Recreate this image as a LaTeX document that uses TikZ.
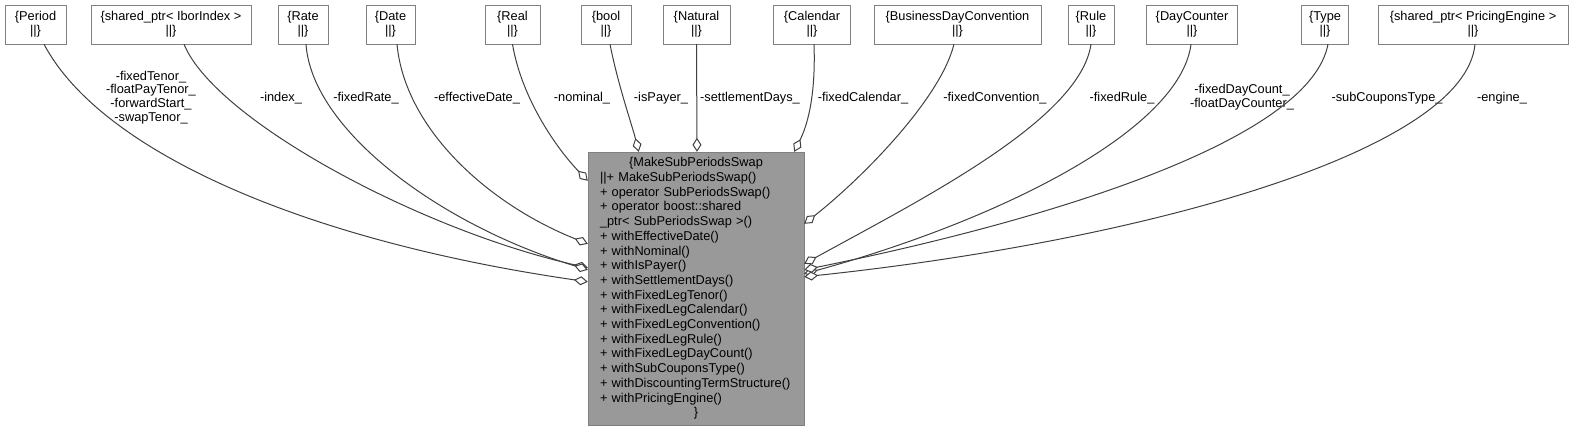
\documentclass[tikz,border=0pt]{standalone}
\usepackage{fontspec}
\setmainfont{Liberation Sans}
\usepackage{xcolor}
\usepackage{tikz}
\usetikzlibrary{arrows.meta}

\definecolor{borda}{HTML}{808080}
\definecolor{cinza}{HTML}{999999}
\definecolor{linha}{HTML}{404040}

\begin{document}
\begin{tikzpicture}[
    x=1pt, y=-1pt,
    classe/.style={
        rectangle,
        draw=borda,
        fill=white,
        align=center,
        minimum height=39pt,
        inner sep=0pt,
        font=\fontsize{12.8}{14}\selectfont
    },
    principal/.style={
        rectangle,
        draw=borda,
        fill=cinza,
        align=left,
        text width=192pt,
        minimum width=216pt,
        minimum height=273pt,
        inner sep=0pt,
        font=\fontsize{12.8}{14.7}\selectfont
    },
    rotulo/.style={align=center, inner sep=0pt, font=\fontsize{12.8}{13.7}\selectfont},
    membro/.style={-{Diamond[fill=white, length=14pt, width=9pt]}, draw=linha, line width=1pt}
]
\useasboundingbox (0,0) rectangle (1576,432);

% classes usadas como membros
\node[classe, minimum width=61pt] (period) at (35.5,24.5) {\{Period\\||\}};
\node[classe, minimum width=160pt] (iborindex) at (171,24.5) {\{shared\_ptr< IborIndex >\\||\}};
\node[classe, minimum width=50pt] (rate) at (303,24.5) {\{Rate\\||\}};
\node[classe, minimum width=49pt] (date) at (390.5,24.5) {\{Date\\||\}};
\node[classe, minimum width=55pt] (real) at (512.5,24.5) {\{Real\\||\}};
\node[classe, minimum width=50pt] (bool) at (606,24.5) {\{bool\\||\}};
\node[classe, minimum width=67pt] (natural) at (696.5,24.5) {\{Natural\\||\}};
\node[classe, minimum width=77pt] (calendar) at (812,24.5) {\{Calendar\\||\}};
\node[classe, minimum width=167pt] (convention) at (957.5,24.5) {\{BusinessDayConvention\\||\}};
\node[classe, minimum width=46pt] (rule) at (1091,24.5) {\{Rule\\||\}};
\node[classe, minimum width=91pt] (daycounter) at (1192,24.5) {\{DayCounter\\||\}};
\node[classe, minimum width=47pt] (type) at (1325,24.5) {\{Type\\||\}};
\node[classe, minimum width=190pt] (engine) at (1473,24.5) {\{shared\_ptr< PricingEngine >\\||\}};

% classe principal
\node[principal] (swap) at (696,288.5) {\makebox[\hsize]{\{MakeSubPeriodsSwap}\\
||+ MakeSubPeriodsSwap()\\
+ operator SubPeriodsSwap()\\
+ operator boost::shared\\
\_ptr< SubPeriodsSwap >()\\
+ withEffectiveDate()\\
+ withNominal()\\
+ withIsPayer()\\
+ withSettlementDays()\\
+ withFixedLegTenor()\\
+ withFixedLegCalendar()\\
+ withFixedLegConvention()\\
+ withFixedLegRule()\\
+ withFixedLegDayCount()\\
+ withSubCouponsType()\\
+ withDiscountingTermStructure()\\
+ withPricingEngine()\\
\makebox[\hsize]{\}}};

% nomes dos membros
\node[rotulo] (periodlbl) at (151,97.5) {-fixedTenor\_\\-floatPayTenor\_\\-forwardStart\_\\-swapTenor\_};
\node[rotulo] (indexlbl) at (281,98) {-index\_};
\node[rotulo] (ratelbl) at (366,98) {-fixedRate\_};
\node[rotulo] (datelbl) at (477,98) {-effectiveDate\_};
\node[rotulo] (reallbl) at (582,98) {-nominal\_};
\node[rotulo] (boollbl) at (661,98) {-isPayer\_};
\node[rotulo] (naturallbl) at (750,98) {-settlementDays\_};
\node[rotulo] (calendarlbl) at (863,98) {-fixedCalendar\_};
\node[rotulo] (conventionlbl) at (995,98) {-fixedConvention\_};
\node[rotulo] (rulelbl) at (1122,98) {-fixedRule\_};
\node[rotulo] (daycounterlbl) at (1242,97.5) {-fixedDayCount\_\\-floatDayCounter\_};
\node[rotulo] (typelbl) at (1387,98) {-subCouponsType\_};
\node[rotulo] (enginelbl) at (1502,98) {-engine\_};

% agregacoes
\draw[membro] ([xshift=8.5pt]period.south) .. controls (100,150) and (300,240) .. ([yshift=-130pt]swap.north west);
\draw[membro] ([xshift=13pt]iborindex.south) .. controls (215,120) and (420,230) .. ([yshift=-116pt]swap.north west);
\draw[membro] ([xshift=3pt]rate.south) .. controls (312,130) and (440,225) .. ([yshift=-118pt]swap.north west);
\draw[membro] ([xshift=6.5pt]date.south) .. controls (405,130) and (490,205) .. ([yshift=-92pt]swap.north west);
\draw[membro] (real.south) .. controls (522,100) and (558,150) .. ([yshift=-29pt]swap.north west);
\draw[membro] ([xshift=4pt]bool.south) .. controls (618,85) and (632,125) .. ([xshift=51pt]swap.north west);
\draw[membro] (natural.south) -- ([xshift=1pt]swap.north);
\draw[membro] ([xshift=2pt]calendar.south) .. controls (816,100) and (806,128) .. ([xshift=-10pt]swap.north east);
\draw[membro] ([xshift=-3.5pt]convention.south) .. controls (940,100) and (860,180) .. ([yshift=-72pt]swap.north east);
\draw[membro] (rule.south) .. controls (1080,120) and (920,200) .. ([yshift=-112pt]swap.north east);
\draw[membro] ([xshift=-1pt]daycounter.south) .. controls (1180,130) and (1000,220) .. ([yshift=-122pt]swap.north east);
\draw[membro] ([xshift=3pt]type.south) .. controls (1310,140) and (1050,220) .. ([yshift=-118pt]swap.north east);
\draw[membro] ([xshift=2pt]engine.south) .. controls (1465,150) and (1150,240) .. ([yshift=-125pt]swap.north east);

\end{tikzpicture}
\end{document}
